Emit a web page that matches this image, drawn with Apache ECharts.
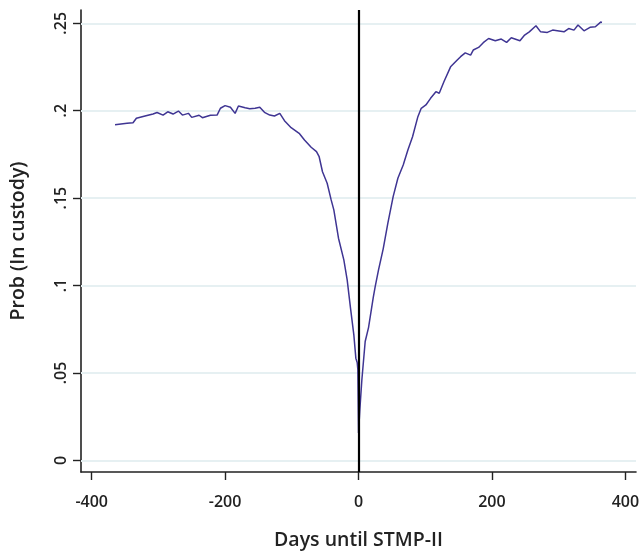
<!DOCTYPE html>
<html>
<head>
<meta charset="utf-8">
<script src="https://cdn.jsdelivr.net/npm/echarts@6/dist/echarts.min.js"></script>
<style>
html, body { margin: 0; padding: 0; background: #fff; }
#divChart { width: 642px; height: 558px; }
</style>
</head>
<body>
<div id="divChart"></div>
<script>
// days relative to STMP-II and probability in custody
var days = [-365, -347, -338, -333, -320, -308, -302, -293, -286, -278, -270, -264, -255, -250, -239, -234,
    -222, -212, -207, -200, -192, -185, -180, -170, -163, -155, -148, -141, -133, -126, -118, -111,
    -101, -89, -81, -71, -63, -59, -54, -47, -41, -37, -30, -22, -17, -12, -7, -4, -2, -1, 0,
    2, 5, 10, 15, 22, 25, 30, 37, 44, 52, 59, 67, 74, 81, 89, 94, 101, 108, 116, 121, 128, 138,
    148, 153, 160, 168, 172, 180, 187, 195, 205, 214, 222, 229, 242, 249, 256, 266, 273, 283,
    291, 298, 308, 315, 323, 329, 338, 347, 355, 363, 365];
var probs = [.192, .1928, .1931, .1957, .197, .1981, .199, .1975, .1994, .1981, .1998, .1975, .1985, .1962, .1974, .196,
    .1974, .1975, .2014, .2029, .202, .1985, .2027, .2017, .2011, .2014, .202, .1991, .1975, .197, .1985, .1943,
    .1903, .1871, .1833, .1791, .1766, .1737, .1651, .1585, .149, .1433, .1271, .1147, .1033, .0871, .0718, .0585, .056, .052, .0157,
    .029, .046, .068, .076, .093, .0994, .109, .121, .1357, .151, .1614, .169, .1775, .1851, .1966, .2014, .2033, .2071, .2109, .21, .2166, .2251,
    .229, .2309, .2331, .2318, .2347, .2362, .2389, .2413, .24, .241, .2391, .2417, .24, .2433, .2451, .2486, .2451, .2448,
    .2461, .2457, .2451, .247, .2461, .249, .2457, .2477, .248, .2507, .2505];
var xTicks = [-400, -200, 0, 200, 400];
var yTicks = [0, .05, .1, .15, .2, .25];
var yTickLabels = ['0', '.05', '.1', '.15', '.2', '.25'];

var myChart = echarts.init(document.getElementById('divChart'));

function buildData() {
    var result = [];
    for (var i = 0; i < days.length; i++) {
        result.push([days[i], probs[i]]);
    }
    return result;
}

var font = 'Open Sans';
var option = {
    animation: false,
    grid: { left: 77, right: 3, top: 10, bottom: 86 },
    xAxis: {
        type: 'value',
        min: -416,
        max: 416,
        name: 'Days until STMP-II',
        nameLocation: 'middle',
        nameGap: 58,
        nameTextStyle: { fontFamily: font, fontSize: 19.5, fontWeight: 600, color: '#222' },
        axisLine: { show: true, onZero: false, lineStyle: { color: '#222', width: 1.6 } },
        axisTick: { show: true, customValues: xTicks, length: 8, lineStyle: { color: '#222', width: 1.4 } },
        axisLabel: { customValues: xTicks, fontFamily: font, fontSize: 16, fontWeight: 600, color: '#222', margin: 22 },
        splitLine: { show: false }
    },
    yAxis: {
        type: 'value',
        min: -0.0066,
        max: 0.2576,
        name: 'Prob (In custody)',
        nameLocation: 'middle',
        nameGap: 53,
        nameTextStyle: { fontFamily: font, fontSize: 19.5, fontWeight: 600, color: '#222' },
        axisLine: { show: true, onZero: false, lineStyle: { color: '#222', width: 1.6 } },
        axisTick: { show: true, customValues: yTicks, length: 8, lineStyle: { color: '#222', width: 1.4 } },
        axisLabel: {
            customValues: yTicks,
            rotate: 90,
            fontFamily: font, fontSize: 16, fontWeight: 600, color: '#222', margin: 12,
            formatter: function (v) {
                for (var i = 0; i < yTicks.length; i++) {
                    if (Math.abs(yTicks[i] - v) < 1e-6) return yTickLabels[i];
                }
                return '';
            }
        },
        splitLine: { show: false }
    },
    series: [
        {
            // horizontal grid lines
            type: 'line',
            data: [],
            silent: true,
            z: 1,
            markLine: {
                symbol: 'none',
                silent: true,
                z: 1,
                label: { show: false },
                lineStyle: { color: '#e6f0f2', width: 1.8, type: 'solid' },
                data: yTicks.map(function (v) { return { yAxis: v }; })
            }
        },
        {
            type: 'line',
            data: buildData(),
            showSymbol: false,
            z: 4,
            lineStyle: { color: '#3f3593', width: 1.5 },
            markLine: {
                symbol: 'none',
                silent: true,
                z: 6,
                label: { show: false },
                lineStyle: { color: '#000', width: 2.2, type: 'solid' },
                data: [{ xAxis: 0 }]
            }
        }
    ]
};
myChart.setOption(option);
</script>
</body>
</html>
